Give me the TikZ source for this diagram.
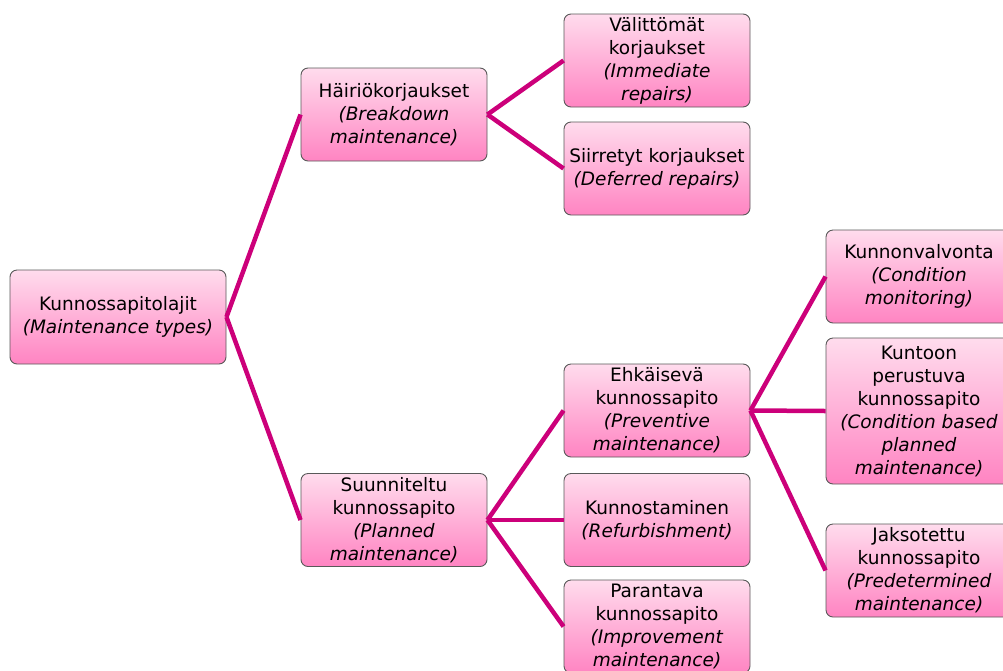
\documentclass[tikz,border=0pt]{standalone}
\usepackage{fontspec}
\setmainfont{DejaVu Sans}
\usetikzlibrary{positioning}
\definecolor{linkpink}{RGB}{204,0,122}
\definecolor{boxtop}{RGB}{255,220,237}
\definecolor{boxbot}{RGB}{255,132,194}
\tikzset{
  box/.style={draw=gray!70!black, line width=0.9pt, rounded corners=7pt, top color=boxtop, bottom color=boxbot,
    minimum width=186pt, minimum height=93pt, align=center, inner sep=1pt,
    font=\fontsize{18.5}{23}\selectfont},
  link/.style={linkpink, line width=4.5pt}
}

\begin{document}
\begin{tikzpicture}[x=1pt,y=-1pt]

			\useasboundingbox (0,0) rectangle (1003,670);

			\node[box,minimum width=216pt,minimum height=94pt] (types) at (118,317) {Kunnossapitolajit\\\textit{(Maintenance types)}};

			\node[box] (break) at (394,114.5) {Häiriökorjaukset\\\textit{(Breakdown}\\\textit{maintenance)}};
			\node[box] (plan) at (394,520) {Suunniteltu\\kunnossapito\\\textit{(Planned}\\\textit{maintenance)}};

			\node[box] (immed) at (657,60.5) {Välittömät\\korjaukset\\\textit{(Immediate}\\\textit{repairs)}};
			\node[box] (defer) at (657,168.5) {Siirretyt korjaukset\\\textit{(Deferred repairs)}};
			\node[box] (prev) at (657,410.5) {Ehkäisevä\\kunnossapito\\\textit{(Preventive}\\\textit{maintenance)}};
			\node[box] (refurb) at (657,520) {Kunnostaminen\\\textit{(Refurbishment)}};
			\node[box] (improv) at (657,626.5) {Parantava\\kunnossapito\\\textit{(Improvement}\\\textit{maintenance)}};

			\node[box] (monit) at (919,276.5) {Kunnonvalvonta\\\textit{(Condition}\\\textit{monitoring)}};
			\node[box,minimum height=146pt] (cbm) at (919,411) {Kuntoon\\perustuva\\kunnossapito\\\textit{(Condition based}\\\textit{planned}\\\textit{maintenance)}};
			\node[box] (predet) at (919,570.5) {Jaksotettu\\kunnossapito\\\textit{(Predetermined}\\\textit{maintenance)}};

			\draw[link] (types.east) -- (break.west);
			\draw[link] (types.east) -- (plan.west);
			\draw[link] (break.east) -- (immed.west);
			\draw[link] (break.east) -- (defer.west);
			\draw[link] (plan.east) -- (prev.west);
			\draw[link] (plan.east) -- (refurb.west);
			\draw[link] (plan.east) -- (improv.west);
			\draw[link] (prev.east) -- (monit.west);
			\draw[link] (prev.east) -- (cbm.west);
			\draw[link] (prev.east) -- (predet.west);

		\end{tikzpicture}
\end{document}
